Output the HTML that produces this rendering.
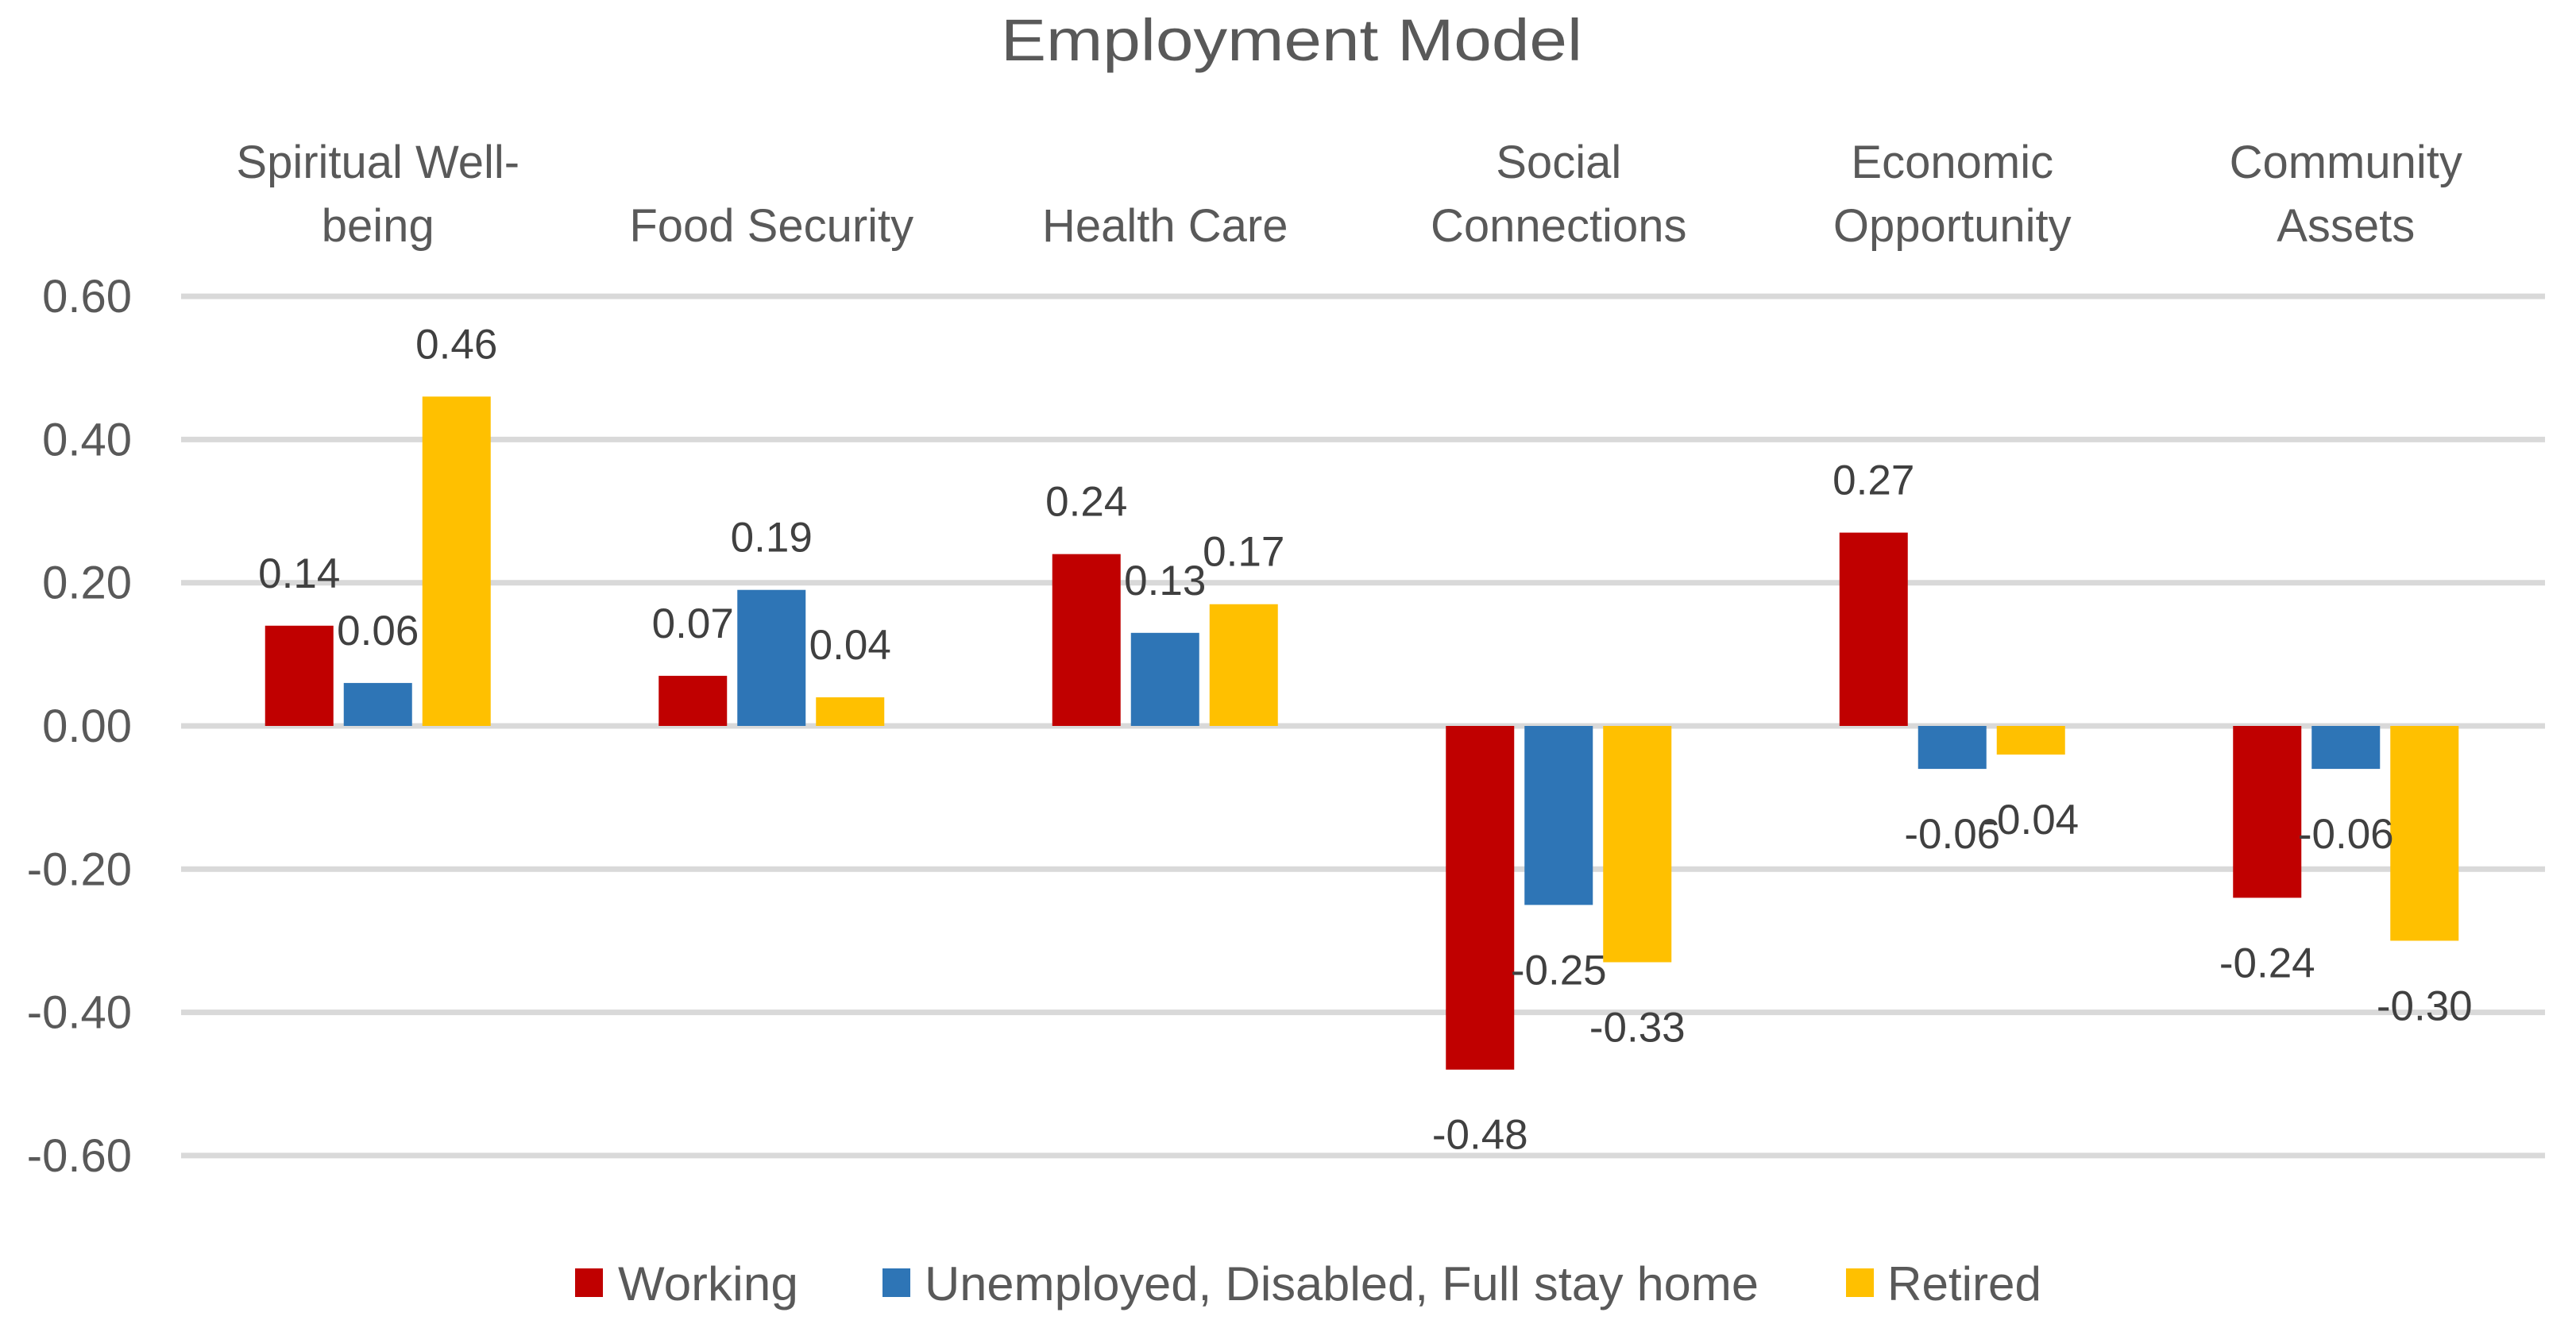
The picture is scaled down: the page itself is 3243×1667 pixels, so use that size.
<!DOCTYPE html>
<html><head><meta charset="utf-8"><style>
html,body{margin:0;padding:0;background:#fff;}
svg{display:block;font-family:"Liberation Sans",sans-serif;}
</style></head><body>
<svg id="chart" width="3243" height="1667" viewBox="0 0 3243 1667" xmlns="http://www.w3.org/2000/svg">
<text x="1626" y="76" text-anchor="middle" font-size="74" fill="#595959" textLength="732" lengthAdjust="spacingAndGlyphs">Employment Model</text>
<g id="grid"></g><g id="cats"></g><g id="bars"></g><g id="labels"></g><g id="legend"></g>
</svg>
<script>
const categories = [["Spiritual Well-","being"],["Food Security"],["Health Care"],["Social","Connections"],["Economic","Opportunity"],["Community","Assets"]];
const seriesNames = ["Working","Unemployed, Disabled,  Full stay home","Retired"];
const working = [0.14,0.07,0.24,-0.48,0.27,-0.24];
const unemployed = [0.06,0.19,0.13,-0.25,-0.06,-0.06];
const retired = [0.46,0.04,0.17,-0.33,-0.04,-0.30];
const ticks = [0.6,0.4,0.2,0,-0.2,-0.4,-0.6];

const NS="http://www.w3.org/2000/svg";
const colors=["#c00000","#2e75b6","#ffc000"];
const series=[working,unemployed,retired];
const x0=228,x1=3204,y0val=914,pxPerUnit=901.5;
const band=495.5;
const y=v=>y0val-v*pxPerUnit;
function mk(tag,attrs,parent){const e=document.createElementNS(NS,tag);for(const k in attrs)e.setAttribute(k,attrs[k]);document.getElementById(parent).appendChild(e);return e;}

ticks.forEach(t=>{
  const l=mk('line',{x1:x0,x2:x1,y1:y(t),y2:y(t),stroke:'#d9d9d9','stroke-width':7},'grid');
  
  
  const tx=mk('text',{x:166,y:y(t)+20,'text-anchor':'end','font-size':58,fill:'#595959'},'grid');
  tx.textContent=t.toFixed(2);
  
  
});

categories.forEach((c,i)=>{
  const cx=x0+band*(i+0.5);
  const lines=c.length===1?[c[0]]:c;
  const ys=c.length===1?[304]:[224,304];
  lines.forEach((s,j)=>{
    const t=mk('text',{x:cx,y:ys[j],'text-anchor':'middle','font-size':58,fill:'#595959'},'cats');
    t.textContent=s;
    
    
  });
});

const bw=86,gap=13;
series.forEach((vals,si)=>{
  vals.forEach((v,i)=>{
    const cx=x0+band*(i+0.5)+(si-1)*(bw+gap);
    const top=Math.min(y(v),y(0)),h=Math.abs(y(v)-y(0));
    const r=mk('rect',{x:cx-bw/2,y:top,width:bw,height:h,fill:colors[si]},'bars');
    
    
    const ly=v>=0?y(v)-48:y(v)+100;
    const t=mk('text',{x:cx,y:ly,'text-anchor':'middle','font-size':53,fill:'#404040'},'labels');
    t.textContent=v.toFixed(2);
    
    
  });
});

const legX=[724,1111,2324],legT=[778,1164,2376],legW=[227,1050,194];
seriesNames.forEach((n,i)=>{
  const r=mk('rect',{x:legX[i],y:1597,width:35,height:36,fill:colors[i]},'legend');
  
  
  const t=mk('text',{x:legT[i],y:1637,'font-size':60,fill:'#595959',textLength:legW[i],lengthAdjust:'spacingAndGlyphs'},'legend');
  t.textContent=n;
  
  
});
</script>
</body></html>
